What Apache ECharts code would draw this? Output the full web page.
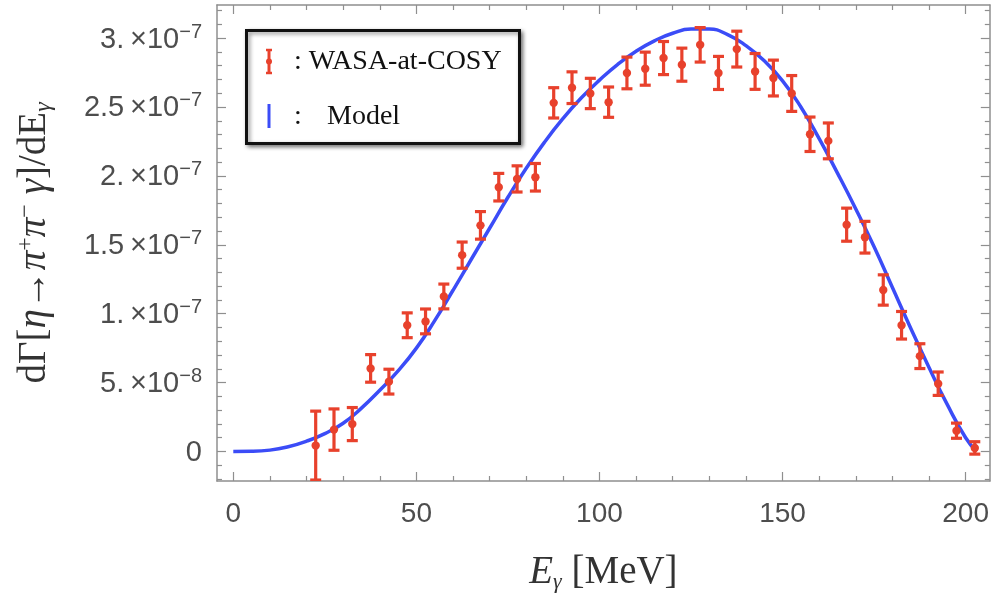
<!DOCTYPE html>
<html>
<head>
<meta charset="utf-8">
<script src="https://cdn.jsdelivr.net/npm/echarts@6/dist/echarts.min.js"></script>
<style>
html,body{margin:0;padding:0;background:#fff;}
#chart{width:992px;height:598px;}
</style>
</head>
<body>
<div id="chart"></div>
<script>
// ---- data (y values in units of 1e-8) ----
const dataX = [22.5,27.5,32.5,37.5,42.5,47.5,52.5,57.5,62.5,67.5,72.5,77.5,82.5,87.5,92.5,97.5,102.5,107.5,112.5,117.5,122.5,127.5,132.5,137.5,142.5,147.5,152.5,157.5,162.5,167.5,172.5,177.5,182.5,187.5,192.5,197.5,202.5];
const dataY = [0.43,1.59,1.99,6.03,5.07,9.16,9.44,11.25,14.25,16.41,19.18,19.78,19.9,25.3,26.4,25.98,25.35,27.47,27.78,28.55,28.07,29.51,27.47,29.2,27.58,27.1,25.98,23.02,22.54,16.46,15.55,11.72,9.16,6.92,4.92,1.51,0.26];
const dataErr = [2.5,1.5,1.2,1.0,0.9,0.9,0.9,0.9,0.95,1.0,1.0,0.95,1.0,1.1,1.15,1.1,1.1,1.15,1.2,1.2,1.2,1.25,1.2,1.3,1.3,1.3,1.3,1.25,1.3,1.2,1.15,1.1,1.0,0.9,0.85,0.55,0.45];

const modelX = [0,5,10,15,20,25,30,35,40,45,50,55,60,65,70,75,80,85,90,95,100,105,110,115,120,125,130,135,140,145,150,155,160,165,170,175,180,185,190,195,200,203];
const modelY = [0,0.01,0.1,0.35,0.75,1.3,2.05,3.15,4.45,5.85,7.5,9.5,11.7,13.95,16.2,18.45,20.55,22.45,24.15,25.65,26.95,28.1,29.05,29.8,30.35,30.65,30.65,30.25,29.45,28.35,26.9,25.0,22.7,20.2,17.6,14.85,11.9,8.95,6.1,3.4,1.0,0.0];

const xMajorTicks = [0,50,100,150,200];
const xTickLabels = ['0','50','100','150','200'];
const xMinorTicks = [10,20,30,40,60,70,80,90,110,120,130,140,160,170,180,190];
const yMajorTicks = [0,5,10,15,20,25,30];
const yTickMantissa = ['0','5.','1.','1.5','2.','2.5','3.'];
const yTickExponent = ['','−8','−7','−7','−7','−7','−7'];
const yMinorTicks = [-2,-1,1,2,3,4,6,7,8,9,11,12,13,14,16,17,18,19,21,22,23,24,26,27,28,29,31,32];

const legendLabels = [': WASA-at-COSY', ':', 'Model'];

// ---- styling ----
const RED = '#e8412c';
const BLUE = '#3b4cf7';
const FRAME = '#8f8f8f';
const LABEL = '#4d4d4d';
const xMin = -4.45, xMax = 206.6, yMin = -2.14, yMax = 32.4;
const SERIF = 'Liberation Serif';
const SANS = 'Liberation Sans';

function xAxisDef(pos, ticks, len, showLine, labels) {
  return {
    type: 'value', position: pos, min: xMin, max: xMax,
    axisLine: {show: showLine, onZero: false, lineStyle: {color: FRAME, width: 1.5}},
    axisTick: {show: true, inside: true, length: len, customValues: ticks, lineStyle: {color: FRAME, width: 1.2}},
    axisLabel: labels ? {
      show: true, customValues: ticks, margin: 19, color: LABEL, fontFamily: SANS, fontSize: 28,
      formatter: v => xTickLabels[xMajorTicks.indexOf(Math.round(v))]
    } : {show: false},
    splitLine: {show: false}
  };
}
function yAxisDef(pos, ticks, len, showLine, labels) {
  return {
    type: 'value', position: pos, min: yMin, max: yMax,
    axisLine: {show: showLine, onZero: false, lineStyle: {color: FRAME, width: 1.5}},
    axisTick: {show: true, inside: true, length: len, customValues: ticks, lineStyle: {color: FRAME, width: 1.2}},
    axisLabel: labels ? {
      show: true, customValues: ticks, margin: 15, color: LABEL, fontFamily: SANS,
      formatter: v => {
        const i = yMajorTicks.indexOf(Math.round(v));
        if (i < 0) return '';
        if (!yTickExponent[i]) return '{m|' + yTickMantissa[i] + '}';
        return '{m|' + yTickMantissa[i] + '\u2009×10}{e|' + yTickExponent[i] + '}';
      },
      rich: {
        m: {fontFamily: SANS, fontSize: 29, color: LABEL, lineHeight: 32, verticalAlign: 'bottom'},
        e: {fontFamily: SANS, fontSize: 20, color: LABEL, lineHeight: 20, verticalAlign: 'top'}
      }
    } : {show: false},
    splitLine: {show: false}
  };
}

const errData = dataX.map((x, i) => [x, dataY[i], dataErr[i]]);
const modelData = modelX.map((x, i) => [x, modelY[i]]);

const chart = echarts.init(document.getElementById('chart'), null, {renderer: 'canvas'});
chart.setOption({
  animation: false,
  backgroundColor: '#fff',
  grid: {left: 217, right: 1, top: 5, bottom: 114, containLabel: false},
  xAxis: [
    Object.assign(xAxisDef('bottom', xMajorTicks, 9, true, true), {
      name: '{i|E}{sub|γ}{n| [MeV]}', nameLocation: 'middle', nameGap: 92,
      nameTextStyle: {
        verticalAlign: 'middle', color: '#333',
        rich: {
          i: {fontFamily: SERIF, fontStyle: 'italic', fontSize: 39, color: '#333', lineHeight: 40, verticalAlign: 'middle'},
          n: {fontFamily: SERIF, fontSize: 39, color: '#333', lineHeight: 40, verticalAlign: 'middle'},
          sub: {fontFamily: SERIF, fontStyle: 'italic', fontSize: 22, color: '#333', lineHeight: 22, verticalAlign: 'bottom'}
        }
      }
    }),
    xAxisDef('bottom', xMinorTicks, 5, false, false),
    xAxisDef('top', xMajorTicks, 9, true, false),
    xAxisDef('top', xMinorTicks, 5, false, false)
  ],
  yAxis: [
    Object.assign(yAxisDef('left', yMajorTicks, 9, true, true), {
      name: '{n|dΓ[}{i|η}{n|→}{i|π}{sup|+}{i|π}{sup|−}{i| γ}{n|]/dE}{sub|γ}',
      nameLocation: 'middle', nameGap: 182, nameRotate: 90,
      nameTextStyle: {
        verticalAlign: 'middle', align: 'center', color: '#333',
        rich: {
          n: {fontFamily: SERIF, fontSize: 39, color: '#333', lineHeight: 42, verticalAlign: 'middle'},
          i: {fontFamily: SERIF, fontStyle: 'italic', fontSize: 39, color: '#333', lineHeight: 42, verticalAlign: 'middle'},
          sup: {fontFamily: SERIF, fontSize: 24, color: '#333', lineHeight: 22, verticalAlign: 'top'},
          sub: {fontFamily: SERIF, fontStyle: 'italic', fontSize: 24, color: '#333', lineHeight: 22, verticalAlign: 'bottom'}
        }
      }
    }),
    yAxisDef('left', yMinorTicks, 5, false, false),
    yAxisDef('right', yMajorTicks, 9, true, false),
    yAxisDef('right', yMinorTicks, 5, false, false)
  ],
  series: [
    {
      name: 'Model', type: 'line', xAxisIndex: 0, yAxisIndex: 0,
      data: modelData, smooth: 0.5, showSymbol: false,
      lineStyle: {color: BLUE, width: 3.5}, z: 2
    },
    {
      name: 'WASA-at-COSY', type: 'custom', xAxisIndex: 0, yAxisIndex: 0,
      data: errData, encode: {x: 0, y: 1}, clip: true, z: 3,
      renderItem: (params, api) => {
        const x = api.value(0), y = api.value(1), e = api.value(2);
        const c = api.coord([x, y]);
        const t = api.coord([x, y + e]);
        const b = api.coord([x, y - e]);
        const hw = 5.5;
        const st = {stroke: RED, lineWidth: 3.2};
        return {
          type: 'group',
          children: [
            {type: 'line', shape: {x1: c[0], y1: t[1], x2: c[0], y2: b[1]}, style: st},
            {type: 'line', shape: {x1: c[0] - hw, y1: t[1], x2: c[0] + hw, y2: t[1]}, style: st},
            {type: 'line', shape: {x1: c[0] - hw, y1: b[1], x2: c[0] + hw, y2: b[1]}, style: st},
            {type: 'circle', shape: {cx: c[0], cy: c[1], r: 4.2}, style: {fill: RED}}
          ]
        };
      }
    }
  ],
  graphic: [
    {
      type: 'rect', left: 245, top: 29, z: 10,
      shape: {width: 273, height: 113},
      style: {fill: '#fff', stroke: '#111', lineWidth: 3, shadowBlur: 4, shadowOffsetX: 2, shadowOffsetY: 2, shadowColor: 'rgba(0,0,0,0.45)'}
    },
    {type: 'line', z: 11, shape: {x1: 269, y1: 50, x2: 269, y2: 73}, style: {stroke: RED, lineWidth: 3}},
    {type: 'line', z: 11, shape: {x1: 266, y1: 50, x2: 272, y2: 50}, style: {stroke: RED, lineWidth: 2.5}},
    {type: 'line', z: 11, shape: {x1: 266, y1: 73, x2: 272, y2: 73}, style: {stroke: RED, lineWidth: 2.5}},
    {type: 'circle', z: 11, shape: {cx: 269, cy: 61.5, r: 3}, style: {fill: RED}},
    {type: 'text', z: 11, x: 294, y: 62, style: {text: legendLabels[0], fontFamily: SERIF, fontSize: 28, fill: '#111', verticalAlign: 'middle'}},
    {type: 'line', z: 11, shape: {x1: 269, y1: 104, x2: 269, y2: 128}, style: {stroke: BLUE, lineWidth: 3}},
    {type: 'text', z: 11, x: 294, y: 117, style: {text: legendLabels[1], fontFamily: SERIF, fontSize: 28, fill: '#111', verticalAlign: 'middle'}},
    {type: 'text', z: 11, x: 327, y: 117, style: {text: legendLabels[2], fontFamily: SERIF, fontSize: 28, fill: '#111', verticalAlign: 'middle'}}
  ]
});
</script>
</body>
</html>
